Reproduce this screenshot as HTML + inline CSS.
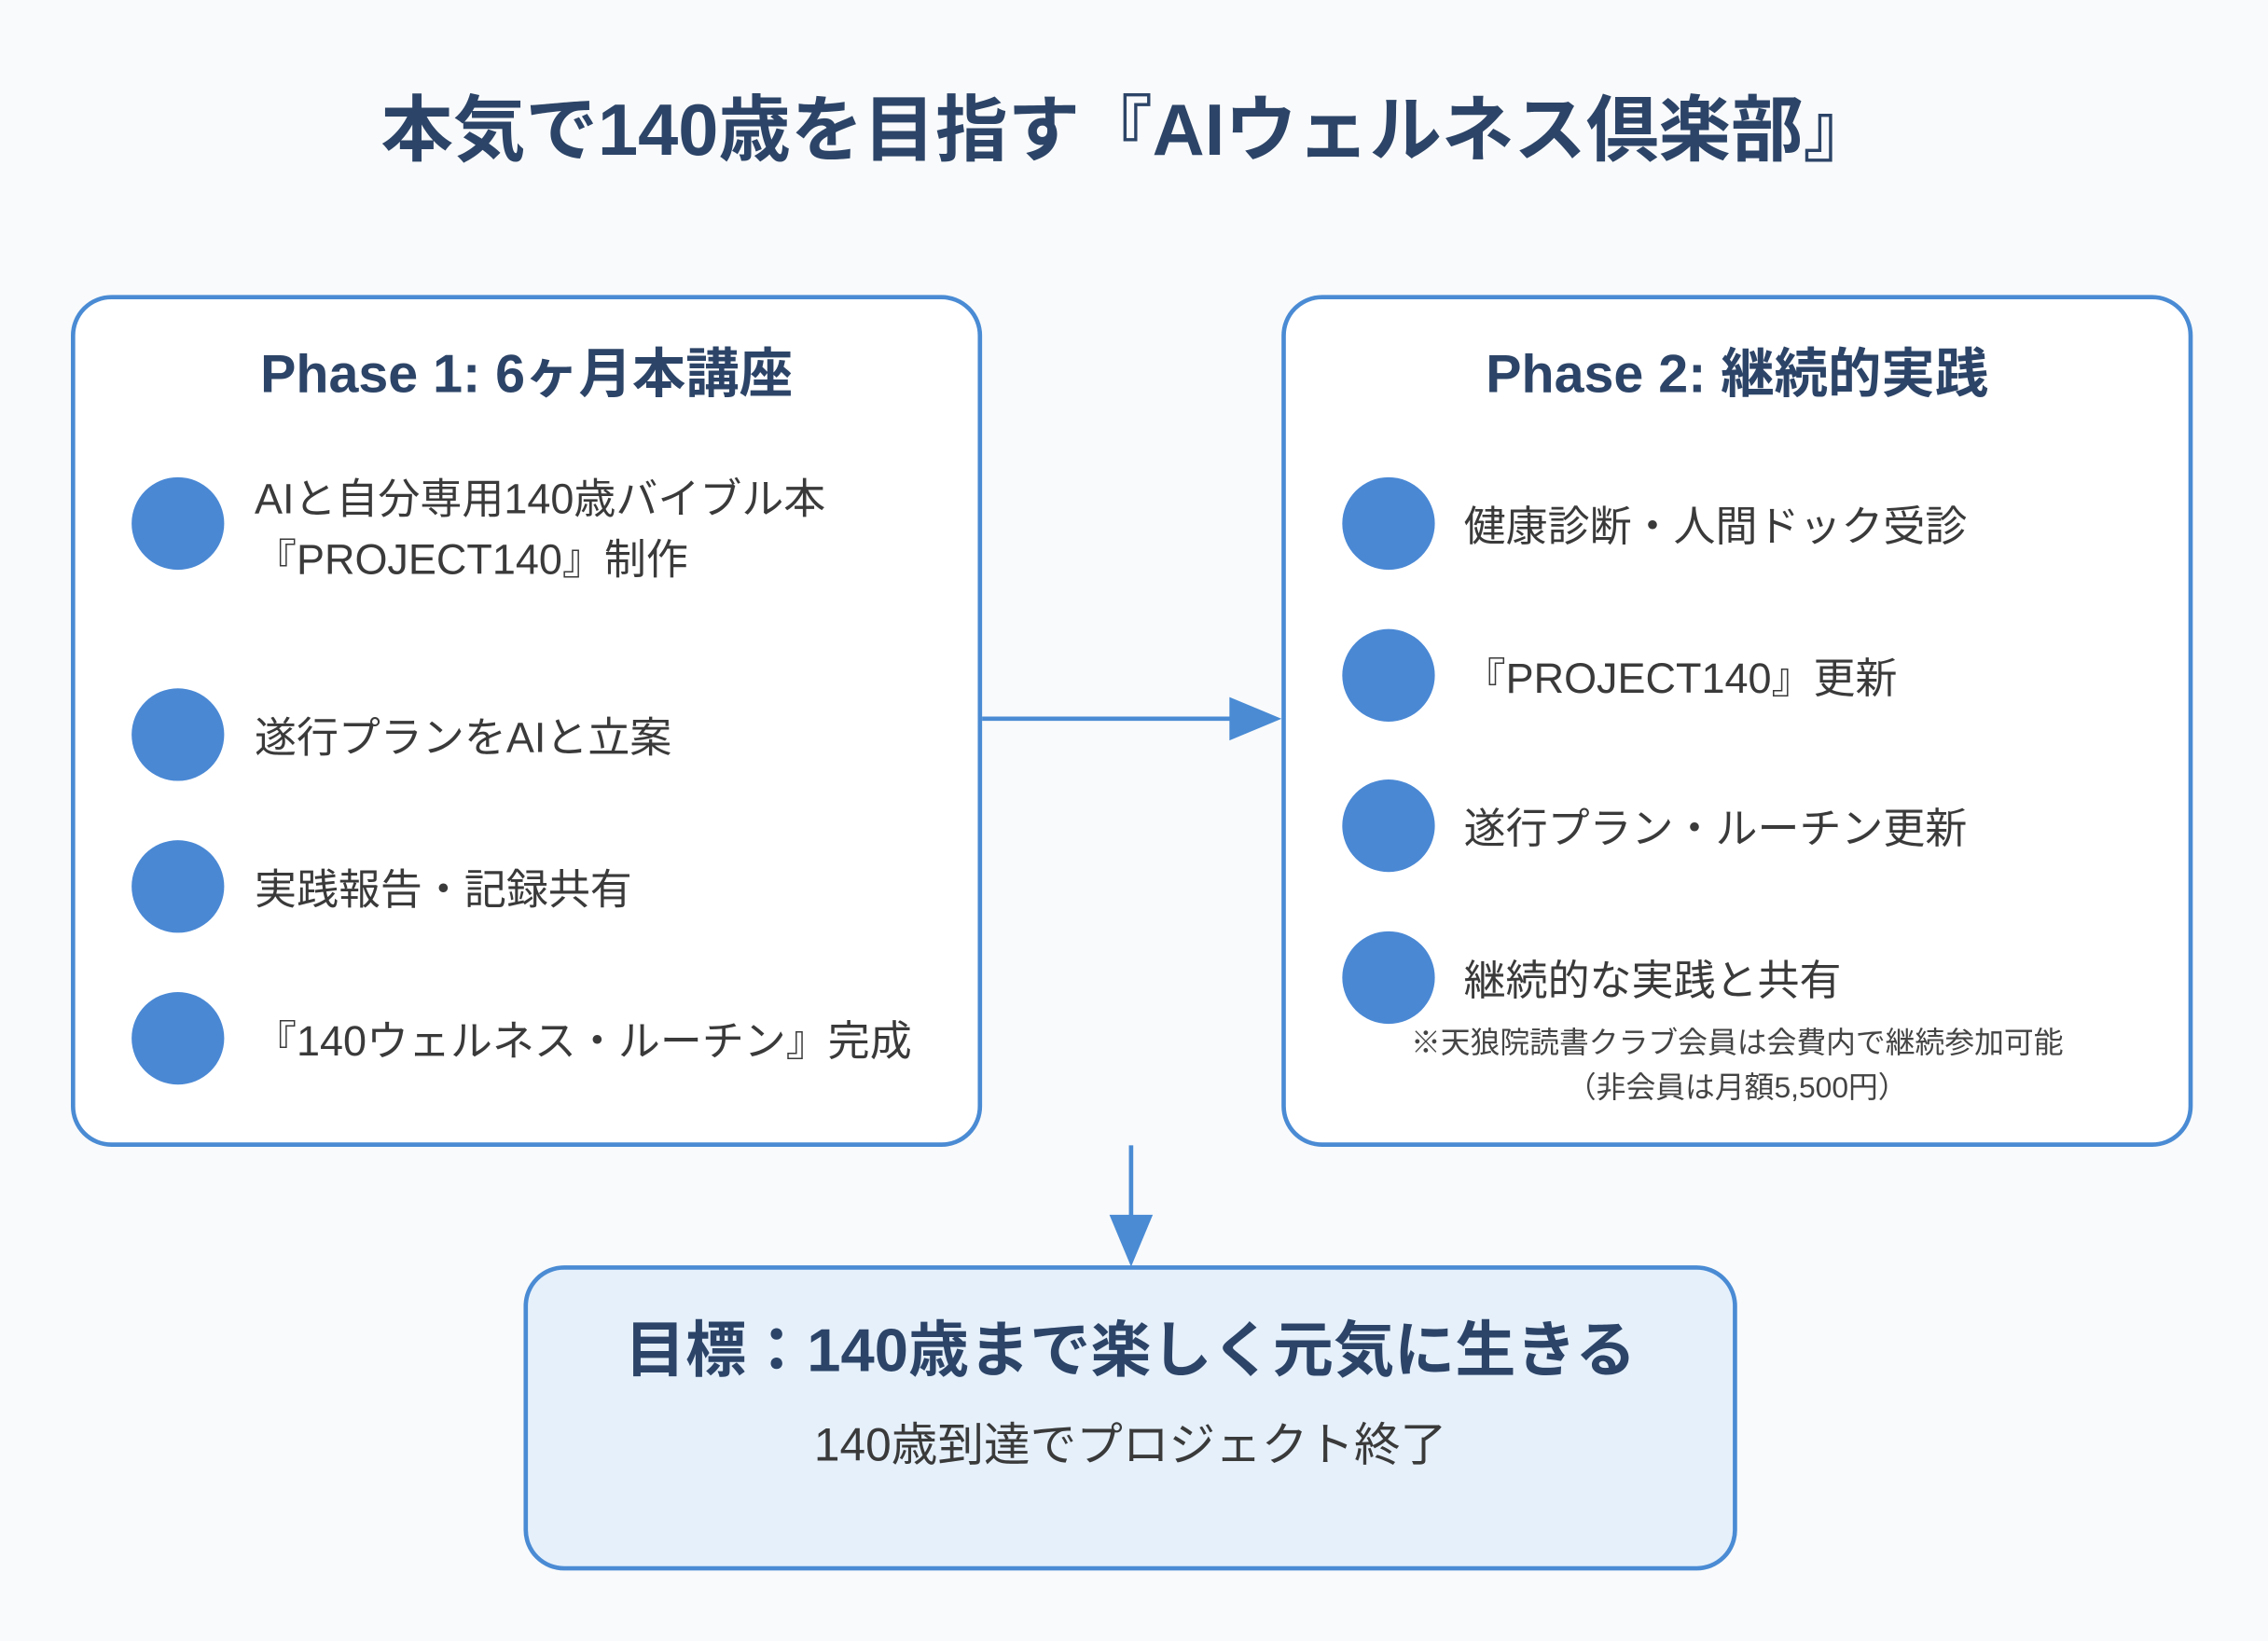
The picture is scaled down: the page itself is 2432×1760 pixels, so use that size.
<!DOCTYPE html>
<html><head><meta charset="utf-8"><style>
html,body{margin:0;padding:0;background:#f9fafb;}
body{width:2432px;height:1760px;overflow:hidden;}
#s{position:absolute;left:0;top:0;width:1568px;height:1135px;transform:scale(1.551);transform-origin:0 0;font-family:"Liberation Sans","Noto Sans CJK JP",sans-serif;color:#333;}
.t{position:absolute;white-space:nowrap;}
.box{position:absolute;border:3px solid #4a8bd4;border-radius:28px;background:#fff;box-sizing:border-box;}
.c{position:absolute;width:64px;height:64px;border-radius:50%;background:#4a88d4;}
.h{font-weight:bold;color:#2c4467;}
.i{font-size:29px;color:#3a3a3a;}
</style></head><body><div id="s">
<div class="t h" style="left:0;width:1560px;text-align:center;top:50px;font-size:50px;">本気で140歳を目指す『AIウェルネス倶楽部』</div>

<div class="box" style="left:49px;top:204px;width:630px;height:589px;"></div>
<div class="t h" style="left:49px;width:630px;text-align:center;top:228px;font-size:37px;">Phase 1: 6ヶ月本講座</div>
<div class="c" style="left:91px;top:330px"></div>
<div class="t i" style="left:176px;top:325px;line-height:42px;">AIと自分専用140歳バイブル本<br>『PROJECT140』制作</div>
<div class="c" style="left:91px;top:476px"></div>
<div class="t i" style="left:176px;top:487px;">遂行プランをAIと立案</div>
<div class="c" style="left:91px;top:581px"></div>
<div class="t i" style="left:176px;top:592px;">実践報告・記録共有</div>
<div class="c" style="left:91px;top:686px"></div>
<div class="t i" style="left:176px;top:697px;">『140ウェルネス・ルーチン』完成</div>

<div class="box" style="left:886px;top:204px;width:630px;height:589px;"></div>
<div class="t h" style="left:886px;width:630px;text-align:center;top:228px;font-size:37px;">Phase 2: 継続的実践</div>
<div class="c" style="left:928px;top:330px"></div>
<div class="t i" style="left:1012px;top:341px;">健康診断・人間ドック受診</div>
<div class="c" style="left:928px;top:435px"></div>
<div class="t i" style="left:1012px;top:446px;">『PROJECT140』更新</div>
<div class="c" style="left:928px;top:539px"></div>
<div class="t i" style="left:1012px;top:550px;">遂行プラン・ルーチン更新</div>
<div class="c" style="left:928px;top:644px"></div>
<div class="t i" style="left:1012px;top:655px;">継続的な実践と共有</div>
<div class="t" style="left:886px;width:630px;text-align:center;top:706px;font-size:20.5px;line-height:31px;color:#444;">※天狼院読書クラブ会員は会費内で継続参加可能<br>（非会員は月額5,500円）</div>

<svg style="position:absolute;left:0;top:0" width="1568" height="1135">
<line x1="679" y1="497" x2="855" y2="497" stroke="#4a8bd4" stroke-width="3"/>
<polygon points="850,482 886,497 850,512" fill="#4a8bd4"/>
<line x1="782" y1="792" x2="782" y2="845" stroke="#4a8bd4" stroke-width="3"/>
<polygon points="767,840 782,876 797,840" fill="#4a8bd4"/>
</svg>

<div class="box" style="left:362px;top:875px;width:839px;height:211px;background:#e5f0fb;"></div>
<div class="t h" style="left:362px;width:839px;text-align:center;top:900px;font-size:42px;">目標：140歳まで楽しく元気に生きる</div>
<div class="t" style="left:362px;width:839px;text-align:center;top:974px;font-size:32px;color:#3a3a3a;">140歳到達でプロジェクト終了</div>
</div></body></html>
